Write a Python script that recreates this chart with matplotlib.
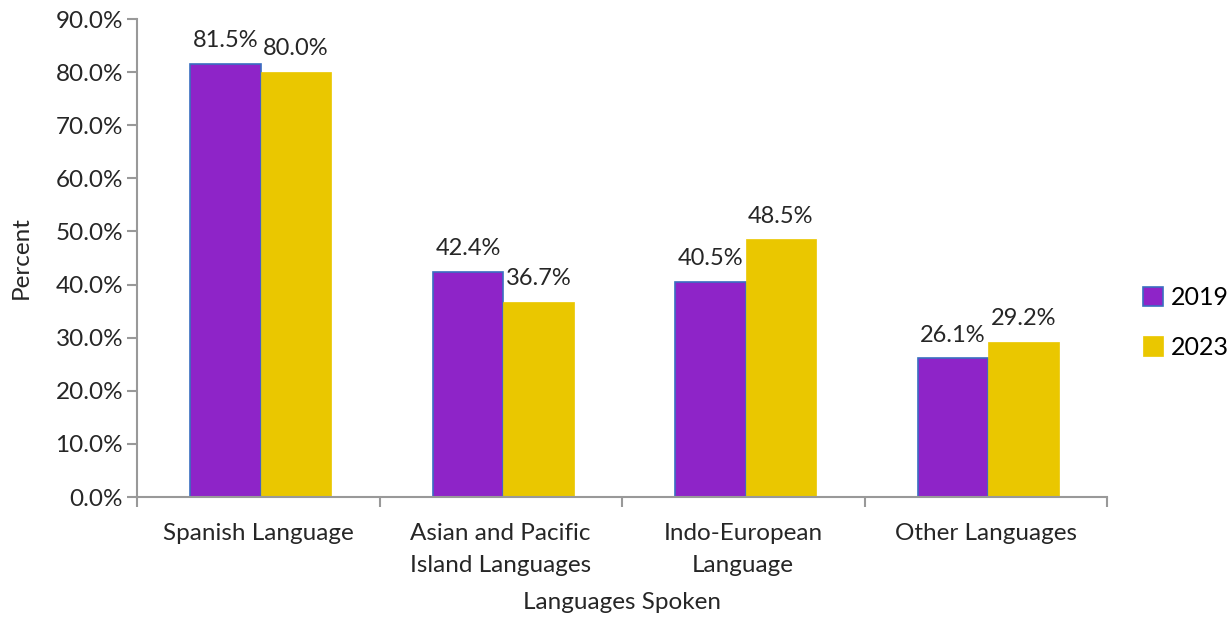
import matplotlib
matplotlib.use('Agg')
import matplotlib.pyplot as plt
import numpy as np

categories = ['Spanish Language', 'Asian and Pacific\nIsland Languages', 'Indo-European\nLanguage', 'Other Languages']
years = ['2019', '2023']
vals_2019 = [81.5, 42.4, 40.5, 26.1]
vals_2023 = [80.0, 36.7, 48.5, 29.2]

plt.rcParams['font.family'] = ['Lato', 'DejaVu Sans']
txt = '#262626'

fig = plt.figure(figsize=(12.31, 6.2), dpi=100)
ax = fig.add_axes([137/1231, 1-497/620, (1107-137)/1231, (497-19)/620])

x = np.arange(len(categories))
w = 0.29
b1 = ax.bar(x + 0.01 - w/2, vals_2019, w, color='#8E24C8', edgecolor='#3A6EC0', linewidth=1.2, label=years[0])
b2 = ax.bar(x + 0.01 + w/2, vals_2023, w, color='#EAC700', edgecolor='#EAC700', linewidth=0.5, label=years[1])

for bars in (b1, b2):
    for r in bars:
        ax.text(r.get_x() + r.get_width()/2, r.get_height() + 2.4, '%.1f%%' % r.get_height(),
                ha='center', va='bottom', fontsize=17, color=txt)

ax.set_xlim(-0.5, 3.5)
ax.set_ylim(0, 90)
ax.set_yticks(np.arange(0, 91, 10))
ax.set_yticklabels(['%.1f%%' % v for v in np.arange(0, 91, 10)], fontsize=17.5, color=txt)
ax.set_xticks(x)
ax.set_xticklabels(categories, fontsize=17.5, color=txt, linespacing=1.6)
ax.set_xticks(np.arange(-0.5, 4, 1), minor=True)
ax.tick_params(axis='x', which='major', length=0, pad=19)
ax.tick_params(axis='x', which='minor', length=7, width=1.5, color='#999999', direction='out')
ax.tick_params(axis='y', length=7, width=1.5, color='#999999', direction='out', pad=3)

for s in ['top', 'right']:
    ax.spines[s].set_visible(False)
for s in ['left', 'bottom']:
    ax.spines[s].set_color('#999999')
    ax.spines[s].set_linewidth(1.5)

ax.set_ylabel('Percent', fontsize=17.5, color=txt, labelpad=17)
ax.set_xlabel('Languages Spoken', fontsize=17.5, color=txt, labelpad=12)

ax.legend(loc='center left', bbox_to_anchor=(1.037, 0.365), frameon=False, fontsize=18,
          handlelength=0.8, handleheight=0.8, handletextpad=0.3, labelspacing=1.05,
          borderaxespad=0, borderpad=0)

fig.savefig('out.png', dpi=100)
